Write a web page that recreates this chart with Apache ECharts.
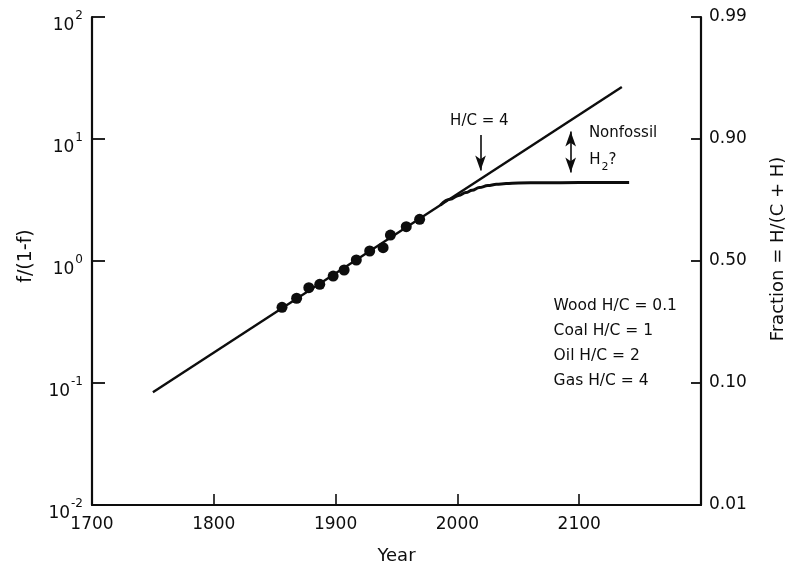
<!DOCTYPE html>
<html><head><meta charset="utf-8">
<script src="https://cdn.jsdelivr.net/npm/echarts@6/dist/echarts.min.js"></script>
<style>html,body{margin:0;padding:0;background:#fff}#c{width:790px;height:567px}</style>
</head><body><div id="c"></div>
<script>
// ---- data ----
const xTickYears = [1700, 1800, 1900, 2000, 2100];
const lineYears = [1750, 2135];
const lineValues = [0.084, 26.7];
const dotYears = [1856, 1868, 1878, 1887, 1898, 1907, 1917, 1928, 1939, 1945, 1958, 1969];
const dotValues = [0.417, 0.495, 0.604, 0.644, 0.753, 0.844, 1.019, 1.208, 1.285, 1.633, 1.91, 2.198];
const curveYears = [1986, 1994, 2001, 2007, 2012, 2018, 2025, 2032, 2040, 2050, 2070, 2100, 2141];
const curveValues = [2.86, 3.2, 3.45, 3.64, 3.80, 4.00, 4.15, 4.25, 4.31, 4.36, 4.38, 4.39, 4.39];
const rightTickValues = [0.01, 0.1, 1, 10, 100];
const rightTickLabels = ['0.01', '0.10', '0.50', '0.90', '0.99'];
const legendLines = ['Wood H/C = 0.1', 'Coal H/C = 1', 'Oil H/C = 2', 'Gas H/C = 4'];
const arrowHC = [2019, 10.8, 5.52];      // year, from, to
const arrowH2 = [2093, 11.52, 5.31];
const labelHC = [2018, 14.06];
const labelNonfossil = [2136, 11.2];
const labelH2 = [2119.5, 6.24];
const legendAnchor = [2079, 0.211];

const INK = '#0d0d0d';
const FONT = 'DejaVu Sans';

const chart = echarts.init(document.getElementById('c'), null, {renderer: 'canvas'});

function zip(a, b) { return a.map((v, i) => [v, b[i]]); }

const option = {
  backgroundColor: '#fff',
  animation: false,
  textStyle: {fontFamily: FONT, color: INK},
  grid: {left: 92, right: 89, top: 17, bottom: 62, containLabel: false, outerBoundsMode: 'none'},
  xAxis: {
    type: 'value', min: 1700, max: 2200, interval: 100,
    name: 'Year', nameLocation: 'middle', nameGap: 42,
    nameTextStyle: {fontFamily: FONT, fontSize: 18, color: INK},
    axisLine: {show: true, onZero: false, lineStyle: {color: INK, width: 2.2}},
    axisTick: {show: true, inside: true, length: 11, lineStyle: {color: INK, width: 1.6}},
    axisLabel: {
      fontFamily: FONT, fontSize: 17, color: INK, margin: 11,
      formatter: v => xTickYears.indexOf(v) >= 0 ? String(v) : ''
    },
    splitLine: {show: false}
  },
  yAxis: [{
    type: 'log', logBase: 10, min: 0.01, max: 100, position: 'left',
    name: 'f/(1-f)', nameLocation: 'middle', nameGap: 56, nameRotate: 90,
    nameTextStyle: {fontFamily: FONT, fontSize: 19, color: INK, padding: [0, 0, 0, 10]},
    axisLine: {show: true, lineStyle: {color: INK, width: 2.2}},
    axisTick: {show: true, inside: true, length: 13, lineStyle: {color: INK, width: 1.8}},
    axisLabel: {
      margin: 9, color: INK,
      formatter: v => '{b|10}{s|' + Math.round(Math.log10(v)) + '}',
      rich: {
        b: {fontFamily: FONT, fontSize: 17, lineHeight: 18, padding: [18, 0, 0, 0], color: INK},
        s: {fontFamily: FONT, fontSize: 12, lineHeight: 13, padding: [10, 0, 13, 1], color: INK}
      }
    },
    splitLine: {show: false}
  }, {
    type: 'log', logBase: 10, min: 0.01, max: 100, position: 'right',
    name: 'Fraction = H/(C + H)', nameLocation: 'middle', nameGap: 68, nameRotate: 90,
    nameTextStyle: {fontFamily: FONT, fontSize: 18, color: INK, padding: [0, 0, 0, 24]},
    axisLine: {show: true, lineStyle: {color: INK, width: 2.2}},
    axisTick: {show: true, inside: true, length: 10, lineStyle: {color: INK, width: 1.8}},
    axisLabel: {
      fontFamily: FONT, fontSize: 17, color: INK, margin: 8,
      formatter: v => {
        const i = rightTickValues.findIndex(t => Math.abs(Math.log10(t) - Math.log10(v)) < 1e-6);
        return i >= 0 ? rightTickLabels[i] : '';
      }
    },
    splitLine: {show: false}
  }],
  series: [{
    type: 'line', name: 'trend', data: zip(lineYears, lineValues),
    showSymbol: false, symbol: 'none', lineStyle: {color: INK, width: 2.4}, z: 2
  }, {
    type: 'line', name: 'gas limit', data: zip(curveYears, curveValues),
    showSymbol: false, symbol: 'none', smooth: 0.4, smoothMonotone: 'x',
    lineStyle: {color: INK, width: 3}, z: 2
  }, {
    type: 'scatter', name: 'observed', data: zip(dotYears, dotValues),
    symbol: 'circle', symbolSize: 11, itemStyle: {color: INK, opacity: 1}, z: 3
  }, {
    type: 'line', name: 'annotations', data: [], z: 4,
    markLine: {
      silent: true, animation: false,
      symbol: ['none', 'arrow'], symbolSize: [8, 15],
      lineStyle: {color: INK, width: 1.6, type: 'solid'},
      label: {show: false},
      data: [
        [{coord: [arrowHC[0], arrowHC[1]]}, {coord: [arrowHC[0], arrowHC[2]]}],
        [{coord: [arrowH2[0], arrowH2[1]], symbol: 'arrow'}, {coord: [arrowH2[0], arrowH2[2]], symbol: 'arrow'}]
      ]
    },
    markPoint: {
      silent: true, animation: false, symbol: 'circle', symbolSize: 0,
      label: {show: true, color: INK, fontFamily: FONT},
      data: [
        {coord: labelHC, label: {formatter: 'H/C = 4', fontSize: 15}},
        {coord: labelNonfossil, label: {formatter: 'Nonfossil', fontSize: 15}},
        {coord: labelH2, label: {
          formatter: '{h|H}{u|2}{h|?}',
          rich: {
            h: {fontFamily: FONT, fontSize: 15, lineHeight: 16, padding: [0, 0, 8, 0], color: INK},
            u: {fontFamily: FONT, fontSize: 11, lineHeight: 12, padding: [9, 0, 3, 1], color: INK}
          }
        }},
        {coord: legendAnchor, label: {
          formatter: legendLines.join('\n'), fontSize: 15.5, lineHeight: 25,
          align: 'left', verticalAlign: 'middle'
        }}
      ]
    }
  }]
};
chart.setOption(option);
</script>
</body></html>
